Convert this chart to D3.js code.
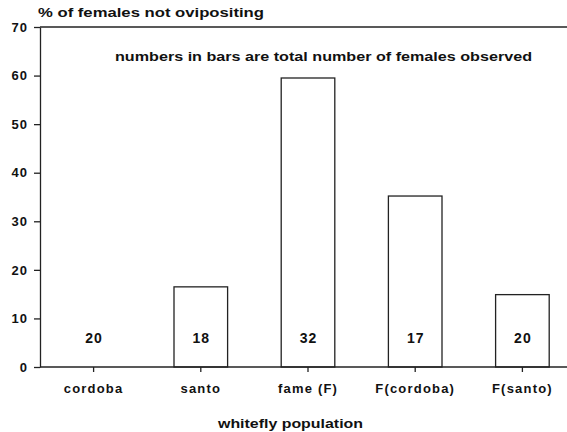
<!DOCTYPE html>
<html>
<head>
<meta charset="utf-8">
<script src="https://cdn.jsdelivr.net/npm/d3@7"></script>
<style>
  body { margin: 0; background: #fff; }
  text { font-family: "Liberation Sans", Arial, sans-serif; font-weight: bold; fill: #111; }
  .axis path, .axis line { stroke: #222; stroke-width: 1.3; }
</style>
</head>
<body>
<div id="chart"></div>
<script>
// data
var populations = ['cordoba', 'santo', 'fame (F)', 'F(cordoba)', 'F(santo)'];
var pctNotOvipositing = [0, 16.5, 59.5, 35.2, 14.9];
var femalesObserved = [20, 18, 32, 17, 20];
var yTicks = [0, 10, 20, 30, 40, 50, 60, 70];

var width = 567, height = 432;
var margin = { left: 40, top: 27, bottom: 65 };
var plotBottom = height - margin.bottom;

var svg = d3.select('#chart').append('svg')
    .attr('width', width)
    .attr('height', height);

// scales
var x = d3.scaleBand().domain(populations).range([margin.left, 576]).paddingInner(0.5).paddingOuter(0.25);
var y = d3.scaleLinear().domain([0, 70]).range([plotBottom, margin.top]);

// bars
svg.append('g').selectAll('rect')
    .data(pctNotOvipositing.map(function(v, i) { return { name: populations[i], v: v }; }))
    .enter().append('rect')
    .filter(function(d) { return d.v > 0; })
    .attr('x', function(d) { return x(d.name); })
    .attr('y', function(d) { return y(d.v); })
    .attr('width', x.bandwidth())
    .attr('height', function(d) { return y(0) - y(d.v); })
    .attr('fill', 'none')
    .attr('stroke', '#222')
    .attr('stroke-width', 1.3);

// counts inside bars
svg.append('g').selectAll('text')
    .data(femalesObserved)
    .enter().append('text')
    .attr('x', function(d, i) { return x(populations[i]) + x.bandwidth() / 2 + 0.5; })
    .attr('y', y(6) + 5)
    .attr('text-anchor', 'middle')
    .style('font-size', '14px')
    .style('letter-spacing', '1px')
    .text(function(d) { return d; });

// y axis
var yAxisG = svg.append('g')
    .attr('class', 'axis')
    .attr('transform', 'translate(' + margin.left + ',0)')
    .call(d3.axisLeft(y).tickValues(yTicks).tickSize(6).tickPadding(6).tickSizeOuter(0));
yAxisG.selectAll('text').style('font-size', '13px').style('letter-spacing', '1px').style('fill', '#111');

// x axis
var xAxisG = svg.append('g')
    .attr('class', 'axis')
    .attr('transform', 'translate(0,' + plotBottom + ')')
    .call(d3.axisBottom(x).tickSize(5).tickPadding(12).tickSizeOuter(0));
xAxisG.select('.domain').attr('d', 'M' + margin.left + ',0H' + width);
xAxisG.selectAll('text').style('font-size', '13px').style('letter-spacing', '1.2px').style('fill', '#111');

// top frame line
svg.append('line')
    .attr('x1', margin.left).attr('x2', width)
    .attr('y1', margin.top).attr('y2', margin.top)
    .attr('stroke', '#222').attr('stroke-width', 1.3);

// titles
svg.append('text')
    .attr('x', 38).attr('y', 17)
    .style('font-size', '12px')
    .attr('textLength', 226).attr('lengthAdjust', 'spacingAndGlyphs')
    .text('% of females not ovipositing');

svg.append('text')
    .attr('x', 115).attr('y', 61)
    .style('font-size', '13px')
    .attr('textLength', 417).attr('lengthAdjust', 'spacingAndGlyphs')
    .text('numbers in bars are total number of females observed');

svg.append('text')
    .attr('x', 218).attr('y', 428)
    .style('font-size', '13px')
    .attr('textLength', 145).attr('lengthAdjust', 'spacingAndGlyphs')
    .text('whitefly population');
</script>
</body>
</html>
